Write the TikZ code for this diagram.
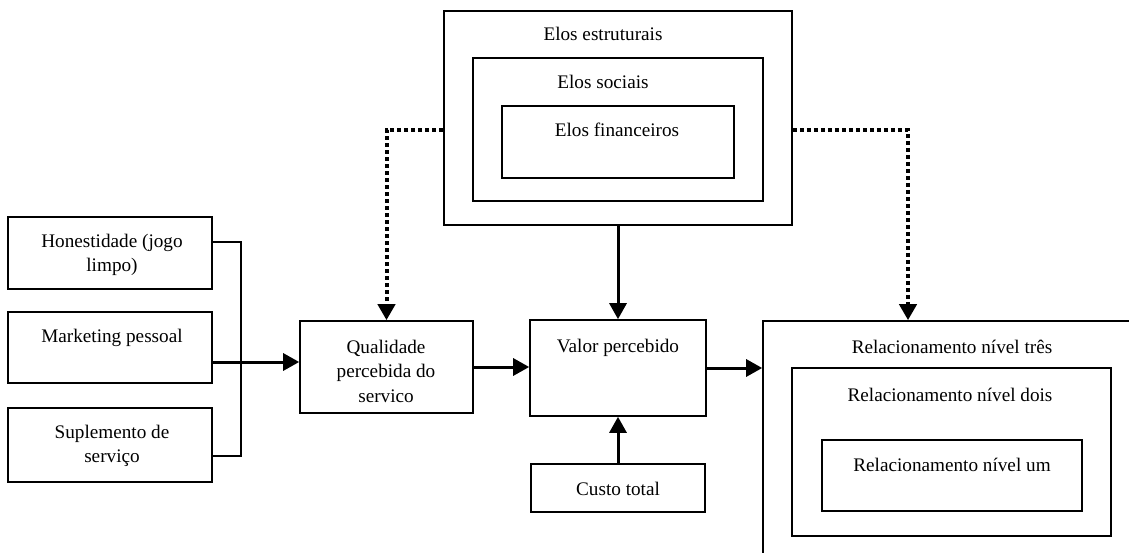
\documentclass[tikz,border=0pt]{standalone}
\usepackage{fontspec}
\setmainfont{Liberation Serif}
\usetikzlibrary{arrows.meta}
\begin{document}
\begin{tikzpicture}[x=1pt,y=-1pt,
  box/.style={draw, line width=1.6pt, inner sep=0pt},
  lbl/.style={font=\fontsize{19.2}{24.5}\selectfont, align=center, inner sep=0pt},
  thickarrow/.style={line width=3pt, -{Triangle[length=16pt,width=17pt]}},
  dotarrow/.style={line width=4pt, dash pattern=on 4pt off 3pt, -{Triangle[length=16pt,width=17pt]}},
  thinline/.style={line width=1.6pt}]
\useasboundingbox (0,0) rectangle (1129,553);
\begin{scope}
\clip (0,0) rectangle (1129,553);
% left boxes
\node[box, minimum width=204pt, minimum height=72pt] (hon) at (110,253) {};
\node[box, minimum width=204pt, minimum height=71pt] (mkt) at (110,347.5) {};
\node[box, minimum width=204pt, minimum height=74pt] (sup) at (110,445) {};
% middle boxes
\node[box, minimum width=173pt, minimum height=92pt] (qual) at (386.5,367) {};
\node[box, minimum width=176pt, minimum height=96pt] (valor) at (618,368) {};
\node[box, minimum width=174pt, minimum height=48pt] (custo) at (618,488) {};
% elos
\node[box, minimum width=348pt, minimum height=214pt] (elos3) at (618,118) {};
\node[box, minimum width=290pt, minimum height=143pt] (elos2) at (618,129.5) {};
\node[box, minimum width=232pt, minimum height=72pt] (elos1) at (618,142) {};
% relacionamento
\node[box, minimum width=377pt, minimum height=249pt] (rel3) at (951.5,445.5) {};
\node[box, minimum width=319pt, minimum height=168pt] (rel2) at (951.5,452) {};
\node[box, minimum width=260pt, minimum height=71pt] (rel1) at (952,475.5) {};
\end{scope}
% labels
\node[lbl] at (112,255) {Honestidade (jogo\\limpo)};
\node[lbl] at (112,338) {Marketing pessoal};
\node[lbl] at (112,446) {Suplemento de\\serviço};
\node[lbl] at (386,371) {Qualidade\\percebida do\\servico};
\node[lbl] at (618,348) {Valor percebido};
\node[lbl] at (618,489) {Custo total};
\node[lbl] at (603,34) {Elos estruturais};
\node[lbl] at (603,82) {Elos sociais};
\node[lbl] at (617,130) {Elos financeiros};
\node[lbl] at (952,347) {Relacionamento nível três};
\node[lbl] at (950,395) {Relacionamento nível dois};
\node[lbl] at (952,465) {Relacionamento nível um};
% connectors
\coordinate (j1) at (241,242);
\coordinate (j2) at (241,456);
\coordinate (m) at (0,362);
\draw[thinline] (hon.east |- j1) -- (j1) -- (j2) -- (sup.east |- j2);
\draw[thickarrow] (mkt.east |- m) -- (qual.west |- m);
\draw[thickarrow] (qual.east) -- (valor.west |- qual.east);
\draw[thickarrow] (valor.east) -- (rel3.west |- valor.east);
\draw[thickarrow] (custo.north) -- (valor.south);
\draw[thickarrow] (elos3.south) -- (valor.north);
\coordinate (dl) at (386.5,130);
\coordinate (dr) at (908,130);
\draw[dotarrow] (elos3.west |- dl) -- (dl) -- (qual.north);
\draw[dotarrow] (elos3.east |- dr) -- (dr) -- (dr |- rel3.north);
\end{tikzpicture}
\end{document}
